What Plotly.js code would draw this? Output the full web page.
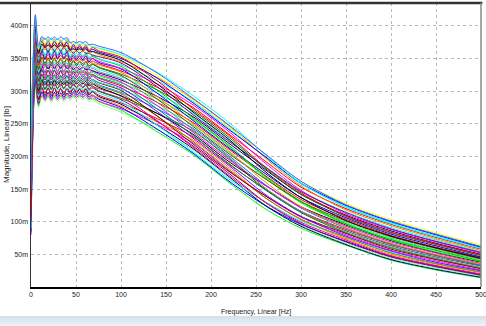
<!DOCTYPE html>
<html>
<head>
<meta charset="utf-8">
<script src="https://cdn.plot.ly/plotly-3.0.1.min.js"></script>
<style>
html,body{margin:0;padding:0;background:#fff;width:486px;height:326px;overflow:hidden;}
#chart{width:486px;height:316px;}
#band{width:486px;height:10px;background:linear-gradient(#d4deea,#eef2f8);}
</style>
</head>
<body>
<div id="chart"></div>
<div id="band"></div>
<script>
// Frequency grid [Hz]
const freq = [0,4.8,8.3,12,15.5,19,22.5,26,29.5,33,36.5,40,43.5,47,50.5,54,57.5,61,64.5,68,75,100,140,180,220,260,300,350,400,450,500];
// Magnitudes in milli-lb, one array per measured curve
const curve00 = [95,307,275,292,283,291,283,291,284,290,284,290,286,292,287,291,287,291,284,287,281,268,241,210,167,126,94,67,44,29,17];
const curve01 = [180,310,278,293,288,292,288,292,288,292,289,291,291,293,291,293,291,293,288,289,284,271,238,203,160,120,90,64,41,26,14];
const curve02 = [120,312,280,299,286,298,286,298,287,297,287,297,289,297,290,296,290,296,287,292,285,273,249,221,178,140,107,80,56,40,26];
const curve03 = [240,316,282,299,290,298,290,298,291,297,291,297,293,299,294,298,294,298,291,294,288,275,242,205,162,125,96,70,47,32,19];
const curve04 = [150,319,284,293,300,292,300,293,299,293,299,293,301,296,300,296,300,296,297,294,290,277,253,225,183,137,103,74,50,35,22];
const curve05 = [85,321,287,306,293,305,293,305,294,304,294,304,296,304,297,303,297,303,294,299,292,280,248,212,169,125,93,65,42,27,15];
const curve06 = [210,324,289,306,297,305,297,305,298,304,298,304,299,305,300,304,300,304,297,300,294,282,258,230,188,150,116,88,65,48,33];
const curve07 = [130,327,292,307,302,306,302,306,302,306,303,305,303,305,303,305,303,305,300,301,297,284,248,207,165,131,101,77,53,37,24];
const curve08 = [170,330,295,312,303,311,303,311,304,310,304,310,304,310,305,309,305,309,302,305,300,287,254,216,174,130,97,69,46,31,18];
const curve09 = [100,332,297,316,303,315,303,315,304,314,304,314,305,313,306,312,306,312,303,308,301,289,266,239,197,150,114,83,60,43,29];
const curve10 = [225,335,299,308,315,307,315,308,314,308,314,308,314,309,313,309,313,309,310,307,304,292,255,214,171,130,99,72,48,33,20];
const curve11 = [140,337,301,318,309,317,309,317,310,316,310,316,310,316,311,315,311,315,308,311,306,293,266,234,192,156,123,95,71,53,38];
const curve12 = [190,339,304,319,314,318,314,318,314,318,315,317,315,317,315,317,315,317,312,313,308,296,262,223,180,137,104,76,52,36,23];
const curve13 = [110,343,306,325,312,324,312,324,313,323,313,323,313,321,314,320,314,320,311,316,310,298,273,243,201,157,121,90,66,49,34];
const curve14 = [250,347,309,326,317,325,317,325,318,324,318,324,317,323,318,322,318,322,315,318,313,301,262,219,177,140,108,82,58,42,28];
const curve15 = [160,349,311,320,327,319,327,320,326,320,326,320,325,320,324,320,324,320,321,318,314,303,278,248,206,166,130,99,75,57,42];
const curve16 = [80,352,314,333,320,332,320,332,321,331,321,331,320,328,321,327,321,327,318,323,317,305,269,228,186,142,108,78,55,38,25];
const curve17 = [200,355,316,333,324,332,324,332,325,331,325,331,324,330,325,329,325,329,322,325,320,308,283,252,211,171,134,104,79,61,45];
const curve18 = [135,358,318,333,328,332,328,332,328,332,329,331,328,330,328,330,328,330,325,326,321,310,273,232,189,149,115,86,63,46,32];
const curve19 = [175,361,321,338,329,337,329,337,330,336,330,336,328,334,329,333,329,333,326,329,324,313,288,257,215,168,129,96,72,54,39];
const curve20 = [115,363,323,342,329,341,329,341,330,340,330,340,329,337,330,336,330,336,327,332,326,314,278,237,195,156,122,93,69,52,36];
const curve21 = [230,366,326,335,342,334,342,335,341,335,341,335,338,333,337,333,337,333,334,331,328,317,292,261,220,180,142,110,86,67,50];
const curve22 = [145,369,328,345,336,344,336,344,337,343,337,343,334,340,335,339,335,339,332,335,330,319,283,241,199,152,116,84,61,44,30];
const curve23 = [90,372,330,345,340,344,340,344,340,344,341,343,339,341,339,341,339,341,336,337,333,322,297,266,224,185,147,115,91,72,54];
const curve24 = [205,375,333,352,339,351,339,351,340,350,340,350,338,346,339,345,339,345,336,341,336,324,288,246,204,166,131,101,77,59,43];
const curve25 = [125,377,335,352,343,351,343,351,344,350,344,350,341,347,342,346,342,346,339,342,337,326,302,270,229,182,142,108,83,65,48];
const curve26 = [185,381,338,347,354,346,354,347,353,347,353,347,350,345,349,345,349,345,346,343,340,329,292,250,208,161,123,91,67,50,35];
const curve27 = [105,383,340,357,348,356,348,356,349,355,349,355,345,351,346,350,346,350,343,346,342,331,306,275,234,193,153,120,96,76,58];
const curve28 = [215,386,343,362,349,361,349,361,350,360,350,360,347,355,348,354,348,354,345,350,344,334,297,255,213,174,137,106,81,63,46];
const curve29 = [155,388,345,360,355,359,355,359,355,359,356,358,352,354,352,354,352,354,349,350,346,335,311,279,238,190,148,112,88,69,52];
const curve30 = [245,392,347,364,355,363,355,363,356,362,356,362,352,358,353,357,353,357,350,353,349,338,302,259,217,170,131,97,73,56,40];
const curve31 = [165,394,349,368,355,367,355,367,356,366,356,366,353,361,354,360,354,360,351,356,350,340,316,284,243,199,158,123,98,78,60];
const curve32 = [100,397,352,361,368,360,368,361,367,361,367,361,363,358,362,358,362,358,358,355,353,343,307,264,223,184,146,114,89,70,53];
const curve33 = [195,400,355,372,363,371,363,371,364,370,364,370,359,365,360,364,360,364,357,360,356,345,321,288,247,198,155,118,94,74,56];
const curve34 = [140,403,357,372,367,371,367,371,367,371,368,370,363,365,363,365,363,365,360,361,358,347,311,268,226,177,137,102,78,60,44];
const curve35 = [220,406,360,377,368,376,368,376,369,375,369,375,363,369,364,368,364,368,361,364,360,350,320,282,241,200,159,125,100,80,61];
const curve36 = [120,408,362,381,368,380,368,380,369,379,369,379,364,372,365,371,365,371,362,367,362,352,316,273,232,184,144,109,84,66,49];
const curve37 = [180,412,364,381,372,380,372,380,373,379,373,379,368,374,369,373,369,373,366,369,365,354,324,286,245,204,162,128,103,83,64];
const curve38 = [235,414,366,375,382,374,382,375,381,375,381,375,375,370,374,370,374,370,371,368,366,356,329,293,252,203,159,122,97,77,59];
const curve39 = [150,417,369,384,379,383,379,383,379,383,380,382,374,376,374,376,374,376,371,372,369,359,328,289,248,204,162,126,101,81,62];

const curves = [curve00,curve01,curve02,curve03,curve04,curve05,curve06,curve07,curve08,curve09,
  curve10,curve11,curve12,curve13,curve14,curve15,curve16,curve17,curve18,curve19,
  curve20,curve21,curve22,curve23,curve24,curve25,curve26,curve27,curve28,curve29,
  curve30,curve31,curve32,curve33,curve34,curve35,curve36,curve37,curve38,curve39];

const curveColors = ['#80ff80','#00ff00','#ff00ff','#0000ff','#ff8000','#000080','#ff0000','#00ffff',
  '#800080','#008000','#ff0080','#000000','#808000','#0080ff','#800000','#00ff80',
  '#8000ff','#ff0000','#008080','#00ff00','#ff00ff','#000080','#808080','#00ffff',
  '#804000','#008000','#ff8000','#ff0000','#0000ff','#ff00ff','#00c000','#00ffff',
  '#800080','#ff8000','#000000','#0000ff','#ff0000','#ffff00','#00ffff','#4060ff'];

const xTicks = [0,50,100,150,200,250,300,350,400,450,500];
const yTicks = [50,100,150,200,250,300,350,400];
const yTickText = ['50m','100m','150m','200m','250m','300m','350m','400m'];
const xTitle = 'Frequency, Linear [Hz]';
const yTitle = 'Magnitude, Linear [lb]';

const FONT = 'Liberation Sans Narrow, Arial Narrow, Liberation Sans, Arial, sans-serif';

const traces = curves.map((c, i) => ({
  x: freq, y: c, type: 'scatter', mode: 'lines',
  line: {color: curveColors[i], width: 1, shape: 'spline', smoothing: 0.8},
  hoverinfo: 'skip', showlegend: false
}));

const layout = {
  width: 486, height: 316,
  margin: {l: 31, r: 5, t: 3, b: 29, pad: 0},
  paper_bgcolor: '#ffffff', plot_bgcolor: '#ffffff',
  font: {family: FONT, size: 7, color: '#222'},
  showlegend: false,
  xaxis: {
    range: [0, 500], tickvals: xTicks, ticktext: xTicks.map(String),
    showgrid: true, gridcolor: '#b8b8b8', griddash: 'dot', gridwidth: 1,
    showline: true, linecolor: '#000', linewidth: 2,
    zeroline: false, ticks: '', ticklen: 0, ticklabeloverflow: 'allow',
    tickfont: {family: FONT, size: 7, color: '#222'}, fixedrange: true
  },
  yaxis: {
    range: [0, 435], tickvals: yTicks, ticktext: yTickText,
    showgrid: true, gridcolor: '#b8b8b8', griddash: 'dot', gridwidth: 1,
    showline: true, linecolor: '#333', linewidth: 1.5,
    zeroline: false, ticks: '', ticklen: 0, ticklabeloverflow: 'allow',
    tickfont: {family: FONT, size: 7, color: '#222'}, fixedrange: true
  },
  shapes: [
    {type: 'line', xref: 'paper', yref: 'paper', x0: -31/450, x1: 1.003, y0: 1, y1: 1,
     line: {color: '#333', width: 2.5}},
    {type: 'line', xref: 'paper', yref: 'paper', x0: 1, x1: 1, y0: 0, y1: 1,
     line: {color: '#888', width: 1.5}}
  ],
  annotations: [
    {text: xTitle, xref: 'paper', yref: 'paper', x: 0.5, y: -0.068, xanchor: 'center', yanchor: 'top',
     showarrow: false, font: {family: FONT, size: 7, color: '#222'}},
    {text: yTitle, xref: 'paper', yref: 'paper', x: -25/450, y: 0.5, xanchor: 'center', yanchor: 'middle',
     textangle: -90, showarrow: false, font: {family: 'Liberation Sans, Arial, sans-serif', size: 8, color: '#222'}}
  ]
};

Plotly.newPlot('chart', traces, layout, {staticPlot: true, displayModeBar: false});
</script>
</body>
</html>
